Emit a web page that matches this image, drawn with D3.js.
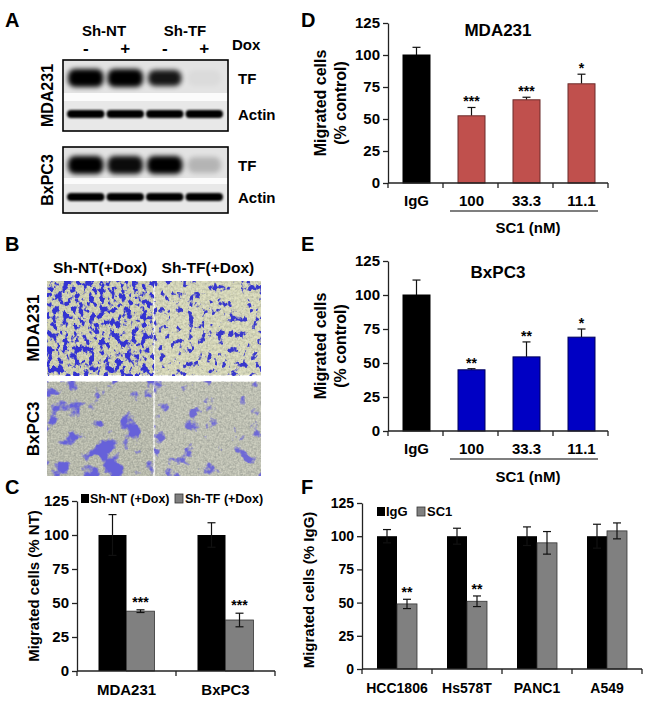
<!DOCTYPE html>
<html>
<head>
<meta charset="utf-8">
<script src="https://cdn.jsdelivr.net/npm/d3@7/dist/d3.min.js"></script>
<style>
  body { margin: 0; background: #fff; }
  svg text { font-family: "Liberation Sans", Arial, sans-serif; font-weight: bold; fill: #000; }
</style>
</head>
<body>
<div id="chart"></div>
<script>
// ---- data ----
var blotLanes = ["NT-", "NT+", "TF-", "TF+"];
var tfMDA231 = [1, 1, 0.9, 0.03];
var tfBxPC3 = [1, 0.95, 1, 0.2];
var actinMDA231 = [1, 1, 1, 1];
var actinBxPC3 = [1, 1, 1, 1];

var cellLines = ["MDA231", "BxPC3"];
var shNT = [100, 100];
var shNTErr = [15, 9];
var shTF = [44, 37.5];
var shTFErr = [1, 5];
var shTFStars = ["***", "***"];

var doseCats = ["IgG", "100", "33.3", "11.1"];
var mdaDose = [100, 52.5, 65, 77.5];
var mdaDoseErr = [6, 6.5, 2, 7.5];
var mdaStars = ["", "***", "***", "*"];
var bxDose = [100, 45, 54.5, 69];
var bxDoseErr = [11, 0.8, 11, 6];
var bxStars = ["", "**", "**", "*"];

var fLines = ["HCC1806", "Hs578T", "PANC1", "A549"];
var fIgG = [100, 100, 100, 100];
var fIgGErr = [5, 6, 7, 9];
var fSC1 = [49, 51, 95, 104];
var fSC1Err = [3.5, 4, 8.5, 6];
var fStars = ["**", "**", "", ""];

var yTicks = [0, 25, 50, 75, 100, 125];

var svg = d3.select("#chart").append("svg")
  .attr("width", 650)
  .attr("height", 701);
var defs = svg.append("defs");

// panel letters
[["A", 5, 27], ["B", 5, 251], ["C", 5, 494], ["D", 301, 27], ["E", 301, 251], ["F", 301, 494]]
  .forEach(function(p) {
    svg.append("text").attr("x", p[1]).attr("y", p[2]).style("font-size", "20px").text(p[0]);
  });

function vtext(x, y, s, size) {
  svg.append("text")
    .attr("transform", "translate(" + x + "," + y + ") rotate(-90)")
    .attr("text-anchor", "middle")
    .attr("dominant-baseline", "central")
    .style("font-size", size + "px")
    .text(s);
}

// ---- A: western blots ----
defs.append("filter").attr("id", "blurTF").attr("x", "-30%").attr("y", "-60%").attr("width", "160%").attr("height", "220%")
  .append("feGaussianBlur").attr("stdDeviation", 2.4);
defs.append("filter").attr("id", "blurAc").attr("x", "-30%").attr("y", "-80%").attr("width", "160%").attr("height", "260%")
  .append("feGaussianBlur").attr("stdDeviation", 1.3);

var lane = d3.scaleBand().domain(blotLanes).range([66, 224]);

svg.append("text").attr("x", 104).attr("y", 36).attr("text-anchor", "middle").style("font-size", "15px").text("Sh-NT");
svg.append("text").attr("x", 185).attr("y", 36).attr("text-anchor", "middle").style("font-size", "15px").text("Sh-TF");
blotLanes.forEach(function(l) {
  svg.append("text").attr("x", lane(l) + lane.bandwidth() / 2).attr("y", 54)
    .attr("text-anchor", "middle").style("font-size", "17px").text(l.slice(-1) === "+" ? "+" : "-");
});
svg.append("text").attr("x", 232).attr("y", 50).style("font-size", "15px").text("Dox");

function blot(top, bottom, gapTop, gapBot, tfY, acY, tf, actin, name, id) {
  var g = svg.append("g");
  defs.append("clipPath").attr("id", id).append("rect")
    .attr("x", 63).attr("y", top).attr("width", 165).attr("height", bottom - top);
  g.append("rect").attr("x", 63).attr("y", top).attr("width", 165).attr("height", gapTop - top).attr("fill", "#e3e3e3");
  g.append("rect").attr("x", 63).attr("y", gapTop).attr("width", 165).attr("height", gapBot - gapTop).attr("fill", "#fbfbfb");
  g.append("rect").attr("x", 63).attr("y", gapBot).attr("width", 165).attr("height", bottom - gapBot).attr("fill", "#e8e8e8");
  var b = g.append("g").attr("clip-path", "url(#" + id + ")");
  b.selectAll(".tf").data(tf).join("rect")
    .attr("x", function(d, i) { return lane(blotLanes[i]) + 2 + (d < 0.95 ? 1 : 0); })
    .attr("y", function(d) { return tfY - (d < 0.95 ? 8 : 9); })
    .attr("width", function(d) { return lane.bandwidth() - 4 - (d < 0.95 ? 2 : 0); })
    .attr("height", function(d) { return d < 0.95 ? 16 : 18; })
    .attr("rx", 7)
    .attr("fill", "#000")
    .attr("opacity", function(d) { return d; })
    .attr("filter", "url(#blurTF)");
  b.selectAll(".ac").data(actin).join("rect")
    .attr("x", function(d, i) { return lane(blotLanes[i]) + 1; })
    .attr("y", acY - 4)
    .attr("width", lane.bandwidth() - 2)
    .attr("height", 8)
    .attr("rx", 4)
    .attr("fill", "#000")
    .attr("opacity", function(d) { return d; })
    .attr("filter", "url(#blurAc)");
  g.append("rect").attr("x", 63).attr("y", top).attr("width", 165).attr("height", bottom - top)
    .attr("fill", "none").attr("stroke", "#000").attr("stroke-width", 1.6);
  svg.append("text").attr("x", 238).attr("y", tfY + 6).style("font-size", "15px").text("TF");
  svg.append("text").attr("x", 238).attr("y", acY + 6).style("font-size", "15px").text("Actin");
  vtext(47, (top + bottom) / 2, name, 16);
}
blot(60, 131, 93, 101, 78, 114, tfMDA231, actinMDA231, "MDA231", "clipA1");
blot(147, 213, 178, 184, 165, 197, tfBxPC3, actinBxPC3, "BxPC3", "clipA2");

// ---- B: transwell micrographs ----
function cellFilter(id, freq, oct, seed, thr, k, col, blur) {
  var f = defs.append("filter").attr("id", id)
    .attr("filterUnits", "objectBoundingBox")
    .attr("x", 0).attr("y", 0).attr("width", 1).attr("height", 1)
    .attr("color-interpolation-filters", "sRGB");
  // mottled membrane background
  f.append("feTurbulence").attr("type", "fractalNoise").attr("baseFrequency", 0.35)
    .attr("numOctaves", 2).attr("seed", seed + 7).attr("result", "gn");
  f.append("feColorMatrix").attr("in", "gn").attr("type", "matrix")
    .attr("values", "0 0 0 0 0.5  0 0 0 0 0.52  0 0 0 0 0.5  0.9 0 0 0 -0.33").attr("result", "grain");
  f.append("feTurbulence").attr("type", "fractalNoise").attr("baseFrequency", 0.6)
    .attr("numOctaves", 1).attr("seed", seed + 3).attr("result", "hn");
  f.append("feColorMatrix").attr("in", "hn").attr("type", "matrix")
    .attr("values", "0 0 0 0 1  0 0 0 0 1  0 0 0 0 0.92  0.9 0 0 0 -0.33").attr("result", "light");
  // stained cells
  f.append("feTurbulence").attr("type", "fractalNoise").attr("baseFrequency", freq)
    .attr("numOctaves", oct).attr("seed", seed).attr("result", "n");
  f.append("feColorMatrix").attr("in", "n").attr("type", "matrix")
    .attr("values", "0 0 0 0 " + col[0] + "  0 0 0 0 " + col[1] + "  0 0 0 0 " + col[2] + "  " + k + " 0 0 0 " + (-k * thr))
    .attr("result", "cells0");
  f.append("feGaussianBlur").attr("in", "cells0").attr("stdDeviation", blur).attr("result", "cells");
  var m = f.append("feMerge");
  m.append("feMergeNode").attr("in", "SourceGraphic");
  m.append("feMergeNode").attr("in", "grain");
  m.append("feMergeNode").attr("in", "light");
  m.append("feMergeNode").attr("in", "cells");
}
cellFilter("mdaNT", "0.19 0.15", 3, 3, 0.5, 9, [0.2, 0.2, 0.82], 0.6);
cellFilter("mdaTF", "0.17 0.13", 3, 11, 0.59, 9, [0.22, 0.22, 0.8], 0.6);
cellFilter("bxNT", "0.05", 4, 5, 0.55, 9, [0.4, 0.38, 0.85], 0.7);
cellFilter("bxTF", "0.06", 4, 21, 0.605, 9, [0.43, 0.41, 0.84], 0.7);

var imgX = d3.scaleBand().domain(["Sh-NT(+Dox)", "Sh-TF(+Dox)"]).range([47, 261]).paddingInner(0.015);
var imgY = d3.scaleBand().domain(cellLines).range([281, 476]).paddingInner(0.065);
var micro = [["mdaNT", "mdaTF"], ["bxNT", "bxTF"]];
var microBg = [["#cfd0ac", "#d6d7b6"], ["#b4b6a8", "#bbbdb0"]];
imgX.domain().forEach(function(c, i) {
  svg.append("text").attr("x", imgX(c) + imgX.bandwidth() / 2).attr("y", 273)
    .attr("text-anchor", "middle").style("font-size", "15.5px").text(c);
  cellLines.forEach(function(r, j) {
    svg.append("rect").attr("x", imgX(c)).attr("y", imgY(r))
      .attr("width", imgX.bandwidth()).attr("height", imgY.bandwidth())
      .attr("fill", microBg[j][i]).attr("filter", "url(#" + micro[j][i] + ")");
  });
});
cellLines.forEach(function(r) { vtext(33, imgY(r) + imgY.bandwidth() / 2, r, 17); });

// ---- generic helpers ----
function leftAxis(y, x, size) {
  var g = svg.append("g").attr("transform", "translate(" + x + ",0)")
    .call(d3.axisLeft(y).tickValues(yTicks).tickSize(5).tickSizeOuter(0).tickPadding(3));
  g.select(".domain").attr("stroke", "#222").attr("stroke-width", 1.3);
  g.selectAll(".tick line").attr("stroke", "#222").attr("stroke-width", 1.3);
  g.selectAll(".tick text").attr("font-family", null).attr("font-size", null).style("font-size", size + "px");
  return g;
}
function bottomLine(x, y0) {
  var r = x.range();
  svg.append("line").attr("x1", r[0]).attr("x2", r[1]).attr("y1", y0).attr("y2", y0)
    .attr("stroke", "#222").attr("stroke-width", 1.3);
  var bounds = x.domain().map(function(d) { return x(d); }).concat([r[1]]);
  svg.selectAll(null).data(bounds).join("line")
    .attr("x1", function(d) { return d; }).attr("x2", function(d) { return d; })
    .attr("y1", y0).attr("y2", y0 + 5)
    .attr("stroke", "#222").attr("stroke-width", 1.3);
}
function errBar(cx, v, e, y, both, cap) {
  var top = y(v + e), bot = both ? y(v - e) : y(v);
  svg.append("line").attr("x1", cx).attr("x2", cx).attr("y1", top).attr("y2", bot)
    .attr("stroke", "#111").attr("stroke-width", 1.2);
  svg.append("line").attr("x1", cx - cap).attr("x2", cx + cap).attr("y1", top).attr("y2", top)
    .attr("stroke", "#111").attr("stroke-width", 1.2);
  if (both) {
    svg.append("line").attr("x1", cx - cap).attr("x2", cx + cap).attr("y1", bot).attr("y2", bot)
      .attr("stroke", "#111").attr("stroke-width", 1.2);
  }
}
function stars(cx, yTop, s, off) {
  if (!s) return;
  svg.append("text").attr("x", cx).attr("y", yTop - off)
    .attr("text-anchor", "middle").style("font-size", "14px").text(s);
}

// ---- C ----
(function() {
  var y = d3.scaleLinear().domain([0, 125]).range([671, 501]);
  var x = d3.scaleBand().domain(cellLines).range([77, 275]);
  var bw = 28;
  cellLines.forEach(function(c, i) {
    var cx = x(c) + x.bandwidth() / 2;
    svg.append("rect").attr("x", cx - bw).attr("y", y(shNT[i])).attr("width", bw)
      .attr("height", y(0) - y(shNT[i])).attr("fill", "#000");
    svg.append("rect").attr("x", cx).attr("y", y(shTF[i])).attr("width", bw)
      .attr("height", y(0) - y(shTF[i])).attr("fill", "#808080").attr("stroke", "#333").attr("stroke-width", 0.8);
    errBar(cx - bw / 2, shNT[i], shNTErr[i], y, true, 4);
    errBar(cx + bw / 2, shTF[i], shTFErr[i], y, true, 4);
    stars(cx + bw / 2, y(shTF[i] + shTFErr[i]), shTFStars[i], 3);
    svg.append("text").attr("x", cx).attr("y", 695).attr("text-anchor", "middle")
      .style("font-size", "15px").text(c);
  });
  leftAxis(y, 77, 15);
  bottomLine(x, 671);
  vtext(33, 586, "Migrated cells (% NT)", 15);
  // legend
  svg.append("rect").attr("x", 81).attr("y", 494).attr("width", 8).attr("height", 9).attr("fill", "#000");
  svg.append("text").attr("x", 90).attr("y", 503).style("font-size", "12.5px").text("Sh-NT (+Dox)");
  svg.append("rect").attr("x", 175).attr("y", 494).attr("width", 8).attr("height", 9)
    .attr("fill", "#808080").attr("stroke", "#333").attr("stroke-width", 0.8);
  svg.append("text").attr("x", 185).attr("y", 503).style("font-size", "12.5px").text("Sh-TF (+Dox)");
})();

// ---- D and E ----
function dosePanel(y0, y1, vals, errs, st, color, stroke, title, titleY, labY, lineY, scY) {
  var y = d3.scaleLinear().domain([0, 125]).range([y0, y1]);
  var x = d3.scaleBand().domain(doseCats).range([388, 608]);
  var bw = 27;
  doseCats.forEach(function(c, i) {
    var cx = x(c) + x.bandwidth() / 2 + 1;
    errBar(cx, vals[i], errs[i], y, false, 4);
    svg.append("rect").attr("x", cx - bw / 2).attr("y", y(vals[i])).attr("width", bw)
      .attr("height", y(0) - y(vals[i]))
      .attr("fill", i === 0 ? "#000" : color)
      .attr("stroke", i === 0 ? "#000" : stroke).attr("stroke-width", 1);
    stars(cx, y(vals[i] + errs[i]), st[i], 1);
    svg.append("text").attr("x", cx).attr("y", labY).attr("text-anchor", "middle")
      .style("font-size", "15px").text(c);
  });
  leftAxis(y, 388, 15);
  bottomLine(x, y0);
  svg.append("text").attr("x", 498).attr("y", titleY).attr("text-anchor", "middle")
    .style("font-size", "17px").text(title);
  svg.append("line").attr("x1", 450).attr("x2", 598).attr("y1", lineY).attr("y2", lineY)
    .attr("stroke", "#000").attr("stroke-width", 1.2);
  svg.append("text").attr("x", 528).attr("y", scY).attr("text-anchor", "middle")
    .style("font-size", "15px").text("SC1 (nM)");
  vtext(320, (y0 + y1) / 2, "Migrated cells", 16);
  vtext(340, (y0 + y1) / 2, "(% control)", 16);
}
dosePanel(183, 23, mdaDose, mdaDoseErr, mdaStars, "#c0504d", "#6b2b2a", "MDA231", 36, 206, 211, 233);
dosePanel(431, 261, bxDose, bxDoseErr, bxStars, "#0000c4", "#00005a", "BxPC3", 278, 454, 459, 482);

// ---- F ----
(function() {
  var y = d3.scaleLinear().domain([0, 125]).range([669, 503]);
  var x = d3.scaleBand().domain(fLines).range([362, 642]);
  var bw = 20;
  fLines.forEach(function(c, i) {
    var cx = x(c) + x.bandwidth() / 2;
    svg.append("rect").attr("x", cx - bw).attr("y", y(fIgG[i])).attr("width", bw)
      .attr("height", y(0) - y(fIgG[i])).attr("fill", "#000");
    svg.append("rect").attr("x", cx).attr("y", y(fSC1[i])).attr("width", bw)
      .attr("height", y(0) - y(fSC1[i])).attr("fill", "#808080").attr("stroke", "#333").attr("stroke-width", 0.8);
    errBar(cx - bw / 2, fIgG[i], fIgGErr[i], y, true, 4);
    errBar(cx + bw / 2, fSC1[i], fSC1Err[i], y, true, 4);
    stars(cx + bw / 2, y(fSC1[i] + fSC1Err[i]), fStars[i], 2);
    svg.append("text").attr("x", cx).attr("y", 693).attr("text-anchor", "middle")
      .style("font-size", "14px").text(c);
  });
  leftAxis(y, 362, 14);
  bottomLine(x, 669);
  vtext(308, 590, "Migrated cells (% IgG)", 15);
  svg.append("rect").attr("x", 377).attr("y", 507).attr("width", 8).attr("height", 9).attr("fill", "#000");
  svg.append("text").attr("x", 386).attr("y", 516).style("font-size", "13px").text("IgG");
  svg.append("rect").attr("x", 417).attr("y", 507).attr("width", 8).attr("height", 9)
    .attr("fill", "#808080").attr("stroke", "#333").attr("stroke-width", 0.8);
  svg.append("text").attr("x", 427).attr("y", 516).style("font-size", "13px").text("SC1");
})();
</script>
</body>
</html>
